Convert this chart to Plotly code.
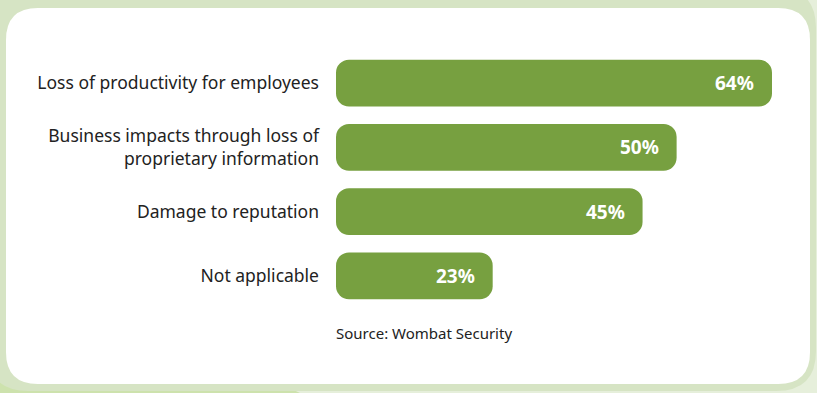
import plotly.graph_objects as go

categories = [
    "Loss of productivity for employees",
    "Business impacts through loss of<br>proprietary information",
    "Damage to reputation",
    "Not applicable",
]
values = [64, 50, 45, 23]
source_text = "Source: Wombat Security"

W, H = 817, 393
L, R, T, B = 336, 27, 51, 85
PW, PH = W - L - R, H - T - B
BAR_COLOR = "#77a040"
FONT = "Noto Sans"


def px_x(p):
    return (p - L) / PW


def px_y(p):
    return (H - B - p) / PH


def rounded_rect(x0, y0, x1, y1, r):
    rx, ry = r / PW, r / PH
    X0, X1 = px_x(x0), px_x(x1)
    Y0, Y1 = px_y(y0), px_y(y1)  # Y0 top, Y1 bottom
    return (
        f"M {X0 + rx},{Y0} L {X1 - rx},{Y0} Q {X1},{Y0} {X1},{Y0 - ry} "
        f"L {X1},{Y1 + ry} Q {X1},{Y1} {X1 - rx},{Y1} "
        f"L {X0 + rx},{Y1} Q {X0},{Y1} {X0},{Y1 + ry} "
        f"L {X0},{Y0 - ry} Q {X0},{Y0} {X0 + rx},{Y0} Z"
    )


fig = go.Figure()
fig.add_trace(go.Bar(
    y=categories, x=values, base=[0] * len(values), orientation="h",
    marker=dict(color=BAR_COLOR, cornerradius=13, line=dict(width=0)),
    width=0.73, hoverinfo="skip", showlegend=False,
))

for c, v in zip(categories, values):
    fig.add_annotation(
        x=v, y=c, xref="x", yref="y", text=f"<b>{v}%</b>",
        showarrow=False, xanchor="right", yanchor="middle", xshift=-16,
        font=dict(family=FONT, size=19, color="white"),
    )

fig.add_annotation(
    x=0, y=px_y(333), xref="x", yref="paper", text=source_text,
    showarrow=False, xanchor="left", yanchor="middle", xshift=-2,
    font=dict(family=FONT, size=15, color="#222222"),
)

# lower-left greener background corner
fig.add_shape(type="path", xref="paper", yref="paper", layer="below",
              path=f"M {px_x(0)},{px_y(250)} L {px_x(0)},{px_y(393)} L {px_x(300)},{px_y(393)} Z",
              fillcolor="#cde2ad", line=dict(width=0))
# frame ring
fig.add_shape(type="path", xref="paper", yref="paper", layer="below",
              path=rounded_rect(-12, -12, 816, 391, 40),
              fillcolor="#d6e4c4", line=dict(width=0))
# white panel
fig.add_shape(type="path", xref="paper", yref="paper", layer="below",
              path=rounded_rect(6, 8, 810, 384, 32),
              fillcolor="white", line=dict(width=0))

fig.update_layout(
    width=W, height=H,
    margin=dict(l=L, r=R, t=T, b=B),
    paper_bgcolor="#e6efdb",
    plot_bgcolor="rgba(0,0,0,0)",
    barmode="overlay",
    xaxis=dict(range=[0, PW / 6.8125], visible=False, fixedrange=True),
    yaxis=dict(
        autorange="reversed", showgrid=False, zeroline=False, showline=False,
        ticks="", ticklabelstandoff=16,
        tickfont=dict(family=FONT, size=17.5, color="#222222"),
        fixedrange=True,
    ),
    font=dict(family=FONT),
)

fig.write_html("out.html")
